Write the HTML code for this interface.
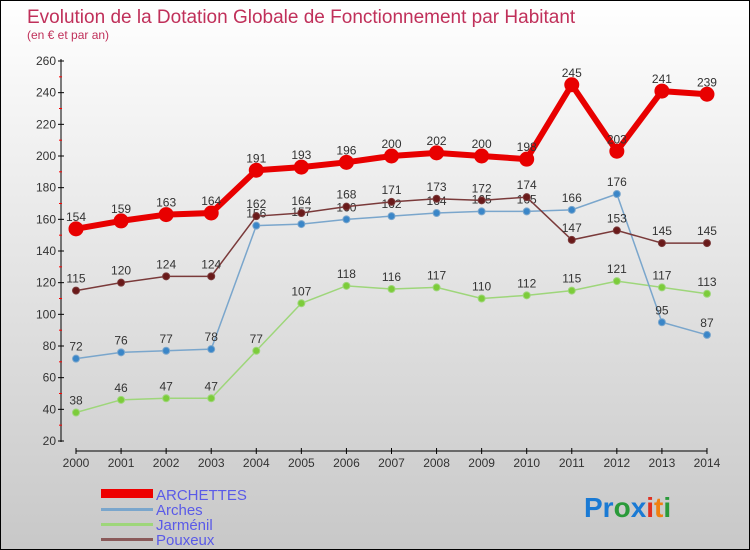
<!DOCTYPE html>
<html><head><meta charset="utf-8"><style>
body{margin:0}
#c{width:748px;height:548px;border:1px solid #000;background:linear-gradient(#fff,#c8c8c8);position:relative;font-family:"Liberation Sans",sans-serif;overflow:hidden}
</style></head><body>
<div id="c">
<svg id="s" width="748" height="548" style="position:absolute;left:0;top:0" font-family="Liberation Sans, sans-serif">
<text x="26" y="22" font-size="19" fill="#c0305a">Evolution de la Dotation Globale de Fonctionnement par Habitant</text>
<text x="26" y="38" font-size="12" fill="#c0305a">(en € et par an)</text>
<g id="g"></g>
<g>
<rect x="100" y="488" width="52" height="9" fill="#e00"/>
<text x="155" y="499" font-size="15" fill="#5a5ae8">ARCHETTES</text>
<rect x="100" y="507" width="52" height="3" fill="#7aa6cc"/>
<text x="155" y="514" font-size="15" fill="#5a5ae8">Arches</text>
<rect x="100" y="522" width="52" height="3" fill="#9ed67a"/>
<text x="155" y="529" font-size="15" fill="#5a5ae8">Jarménil</text>
<rect x="100" y="537" width="52" height="3" fill="#8a5a5a"/>
<text x="155" y="544" font-size="15" fill="#5a5ae8">Pouxeux</text>
</g>
<text x="583" y="516" font-size="28" font-weight="bold"><tspan fill="#1a7ad4">Pr</tspan><tspan fill="#2a9a3a">o</tspan><tspan fill="#1a7ad4">x</tspan><tspan fill="#e03020">i</tspan><tspan fill="#f08010">t</tspan><tspan fill="#2a9a3a">i</tspan></text>
</svg>
</div>
<script>
const years=[2000,2001,2002,2003,2004,2005,2006,2007,2008,2009,2010,2011,2012,2013,2014];
const archettes=[154,159,163,164,191,193,196,200,202,200,198,245,203,241,239];
const arches=[72,76,77,78,156,157,160,162,164,165,165,166,176,95,87];
const jarmenil=[38,46,47,47,77,107,118,116,117,110,112,115,121,117,113];
const pouxeux=[115,120,124,124,162,164,168,171,173,172,174,147,153,145,145];
const yTicks=[20,40,60,80,100,120,140,160,180,200,220,240,260];
const NS="http://www.w3.org/2000/svg";
const g=document.getElementById('g');
const X=i=>75+i*45.07;
const Y=v=>440-(v-20)*380/240;
function mk(t,a){const e=document.createElementNS(NS,t);for(const k in a)e.setAttribute(k,a[k]);g.appendChild(e);return e;}
let e=mk('line',{x1:60,y1:58,x2:60,y2:441,stroke:'#000'});


e=mk('line',{x1:75,y1:450,x2:706,y2:450,stroke:'#000'});


yTicks.forEach((v,i)=>{
  mk('line',{x1:57,y1:Y(v),x2:63,y2:Y(v),stroke:'#000'});
  if(i<yTicks.length-1) mk('line',{x1:58,y1:Y(v+10),x2:61,y2:Y(v+10),stroke:'#f00'});
  const t=mk('text',{x:55,y:Y(v)+4,'font-size':12,fill:'#333','text-anchor':'end'});t.textContent=v;
  
  
});
years.forEach((y,i)=>{
  mk('line',{x1:X(i),y1:447,x2:X(i),y2:453,stroke:'#000'});
  const t=mk('text',{x:X(i),y:466,'font-size':12,fill:'#333','text-anchor':'middle'});t.textContent=y;
  
  
});
function series(d,name,col,dot,w,r){
  const p=mk('polyline',{points:d.map((v,i)=>X(i)+','+Y(v)).join(' '),fill:'none',stroke:col,'stroke-width':w});
  
  
  d.forEach((v,i)=>{
    const c=mk('circle',{cx:X(i),cy:Y(v),r:r,fill:dot,stroke:col,'stroke-width':1});
    
    
    const t=mk('text',{x:X(i),y:Y(v)-8,'font-size':12,fill:'#333','text-anchor':'middle'});t.textContent=v;
    
    
  });
}
series(jarmenil,'jarmenil','#9ed67a','#7ccc3a',1.5,3.5);
series(arches,'arches','#7aa6cc','#3a86c8',1.5,3.5);
series(pouxeux,'pouxeux','#7a3a3a','#6a1a1a',1.5,3.5);
series(archettes,'archettes','#e80000','#e80000',6,7);
</script>
</body></html>
